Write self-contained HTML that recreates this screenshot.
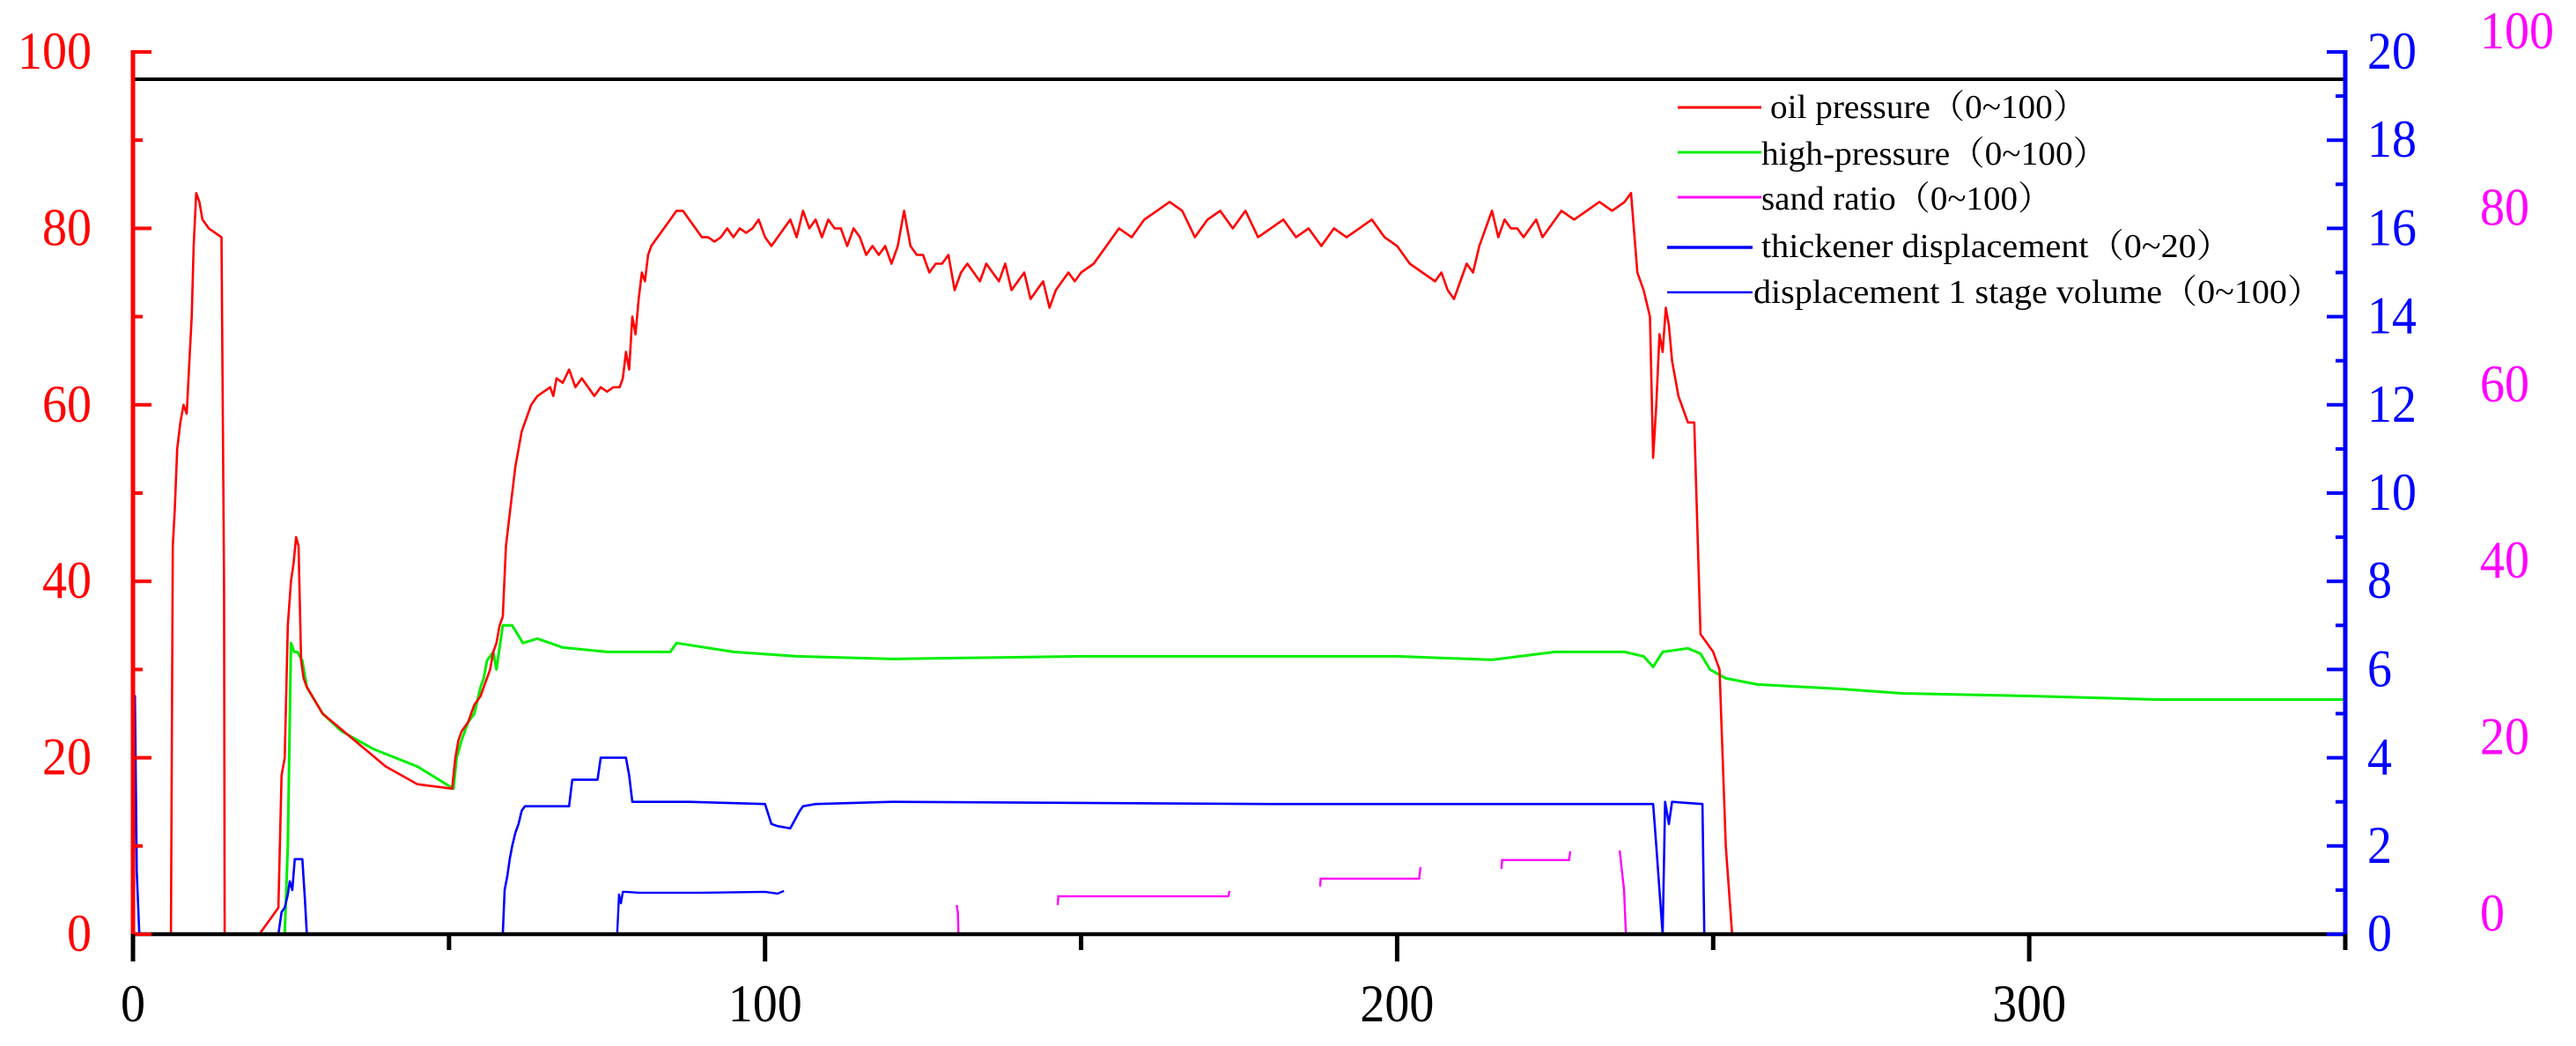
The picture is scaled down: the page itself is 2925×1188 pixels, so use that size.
<!DOCTYPE html>
<html><head><meta charset="utf-8"><style>
html,body{margin:0;padding:0;background:#fff;}
svg{display:block;}
text{font-family:"Liberation Serif","Noto Serif CJK SC",serif;}
</style></head><body>
<svg id="chart" width="2925" height="1188" viewBox="0 0 2925 1188" xmlns="http://www.w3.org/2000/svg">
<g id="plot"></g>
<g id="axes"></g>
<g id="legend">
  <line x1="1905" y1="122" x2="2000" y2="122" stroke="#ff0000" stroke-width="3"/>
  <text x="2010" y="134" font-size="38" textLength="360" lengthAdjust="spacingAndGlyphs">oil pressure（0~100）</text>
  <line x1="1905" y1="173" x2="2000" y2="173" stroke="#00ee00" stroke-width="3"/>
  <text x="2000" y="187" font-size="38" textLength="393" lengthAdjust="spacingAndGlyphs">high-pressure（0~100）</text>
  <line x1="1905" y1="224" x2="2000" y2="224" stroke="#ff00ff" stroke-width="3"/>
  <text x="2000" y="238" font-size="38" textLength="330" lengthAdjust="spacingAndGlyphs">sand ratio（0~100）</text>
  <line x1="1893" y1="281" x2="1990" y2="281" stroke="#0000ff" stroke-width="3.5"/>
  <text x="2000" y="292" font-size="38" textLength="534" lengthAdjust="spacingAndGlyphs">thickener displacement（0~20）</text>
  <line x1="1893" y1="332" x2="1990" y2="332" stroke="#0000ff" stroke-width="2.5"/>
  <text x="1991" y="344" font-size="38" textLength="646" lengthAdjust="spacingAndGlyphs">displacement 1 stage volume（0~100）</text>
</g>
</svg>
<script>
const oilT=[0,6,6.3,6.6,7,7.5,8,8.5,9,9.3,9.6,10,10.5,11,12,14,14.4,14.5,20,21,22,23,23.5,24,24.5,25,25.4,25.8,26.2,26.6,27,27.5,30,35,40,45,50.5,51,51.5,52,53,53.5,54,55,55.5,56,56.5,57,57.5,58,58.5,59,59.5,60,60.5,61,61.5,62,62.5,63,64,65,66,66.5,67,68,69,70,71,72,73,74,75,76,77,77.5,78,78.5,79,79.5,80,80.5,81,81.5,82,83,84,85,86,87,88,89,90,91,92,93,94,95,96,97,98,99,100,101,102,103,104,105,106,107,108,109,110,111,112,113,114,115,116,117,118,119,120,121,122,123,124,125,126,127,128,129,130,131,132,133,134,135,136,137,138,139,140,141,142,143,144,145,146,147,148,149,150,152,154,156,158,160,162,164,166,168,170,172,174,176,178,180,182,184,186,188,190,192,194,196,198,200,202,204,206,207,208,209,210,211,212,213,214,215,216,217,218,219,220,221,222,223,224,226,228,230,232,234,236,237,238,239,240,240.5,241,241.5,242,242.5,243,243.5,244,244.5,245,246,247,248,249,249.5,250,251,252,253,253.7,254.4,260,300,350];
const oilV=[0,0,44,48,55,58,60,59,66,70,78,84,83,81,80,79,40,0,0,1,2,3,18,20,35,40,42,45,44,31,29,28,25,22,19,17,16.5,20,22,23,24,25,26,27,28,29,30,32,33,35,36,44,47,50,53,55,57,58,59,60,61,61.5,62,61,63,62.5,64,62,63,62,61,62,61.5,62,62,63,66,64,70,68,72,75,74,77,78,79,80,81,82,82,81,80,79,79,78.5,79,80,79,80,79.5,80,81,79,78,79,80,81,79,82,80,81,79,81,80,80,78,80,79,77,78,77,78,76,78,82,78,77,77,75,76,76,77,73,75,76,75,74,76,75,74,76,73,74,75,72,73,74,71,73,74,75,74,75,76,78,80,79,81,82,83,82,79,81,82,80,82,79,80,81,79,80,78,80,79,80,81,79,78,76,75,74,75,73,72,74,76,75,78,80,82,79,81,80,80,79,80,81,79,80,82,81,82,83,82,83,84,75,73,70,54,60,68,66,71,69,65,63,61,60,58,58,34,33,32.5,32,30,10,0,0,0,0];
const hpT=[0,24,24.5,25,25.5,26,26.8,27.5,30,33,38,45,50.7,51.2,52,53,54,55,55.5,56,57,57.5,58.5,60,61.7,64,68,75,85,86,95,105,120,130,150,200,215,225,236,239,240.5,242,246,248,249.5,252,257,270,280,300,320,350];
const hpV=[0,0,10,33,32,32,31,28,25,23,21,19,16.5,20,22,24,25,28,29,31,32,30,35,35,33,33.5,32.5,32,32,33,32,31.5,31.2,31.3,31.5,31.5,31.1,32,32,31.5,30.3,32,32.4,31.8,30,29,28.3,27.8,27.3,27,26.6,26.6];
const thkT=[0,0.3,0.6,1,23,23.5,24,24.5,24.8,25.2,25.6,26.8,27.2,27.5,58.5,58.8,59.2,59.6,60,60.5,61,61.5,62,69,69.5,70,73.5,74,78,78.5,79,82,88,100,101,102,104,105.5,106,108,120,180,240.5,241,241.5,242,242.4,243,243.5,248.3,248.6,350];
const thkV=[0,5.4,1.4,0,0,0.5,0.6,0.9,1.2,1.0,1.7,1.7,0.8,0,0,1.0,1.3,1.7,2.0,2.3,2.5,2.8,2.9,2.9,3.5,3.5,3.5,4.0,4.0,3.6,3.0,3.0,3.0,2.95,2.5,2.45,2.4,2.8,2.9,2.95,3.0,2.95,2.95,2.0,1.0,0,3.0,2.5,3.0,2.95,0,0];
const d1T=[76.6,76.9,77.2,77.5,78,80,90,100,102,103];
const d1V=[0,4.5,3.5,4.8,4.8,4.7,4.7,4.8,4.6,4.9];
const sandSegT=[[130.3,130.5,130.6],[146.3,146.4,173.3,173.5],[187.8,187.9,203.5,203.7],[216.5,216.6,227.2,227.4],[235.2,235.9,236.2,350]];
const sandSegV=[[3.3,2.5,0],[3.3,4.3,4.3,4.9],[5.4,6.3,6.3,7.6],[7.4,8.4,8.4,9.4],[9.5,5,0,0]];
const leftTicks=[0,20,40,60,80,100];
const rightTicks=[0,2,4,6,8,10,12,14,16,18,20];
const sandTicks=[0,20,40,60,80,100];
const xTicks=[0,100,200,300];

const X0=151,X1=2663,Y0=1061,Y1=59,XMAX=350;
const sx=t=>X0+(X1-X0)*t/XMAX;
const syL=v=>Y0-(Y0-Y1)*v/100;
const syR=v=>Y0-(Y0-Y1)*v/20;
const sySand=v=>1057-(1057-55)*v/100;
const NS='http://www.w3.org/2000/svg';
const plot=document.getElementById('plot'), axes=document.getElementById('axes');
function mk(tag,attrs,parent){const e=document.createElementNS(NS,tag);for(const k in attrs)e.setAttribute(k,attrs[k]);parent.appendChild(e);return e;}
function pathD(ts,vs,sy){return ts.map((t,i)=>(i?'L':'M')+sx(t).toFixed(1)+','+sy(vs[i]).toFixed(1)).join('');}
const tl=v=>String(v).length*28;

let p;
p=mk('path',{d:pathD(hpT,hpV,syL),fill:'none',stroke:'#00ee00','stroke-width':3,'stroke-linejoin':'round'},plot);


p=mk('path',{d:pathD(oilT,oilV,syL),fill:'none',stroke:'#ff0000','stroke-width':2.6,'stroke-linejoin':'round'},plot);


p=mk('path',{d:pathD(thkT,thkV,syR),fill:'none',stroke:'#0000ff','stroke-width':2.6,'stroke-linejoin':'round'},plot);


p=mk('path',{d:pathD(d1T,d1V,syL),fill:'none',stroke:'#0000ff','stroke-width':2.4,'stroke-linejoin':'round'},plot);


sandSegT.forEach((ts,i)=>{
  const s=mk('path',{d:pathD(ts,sandSegV[i],syL),fill:'none',stroke:'#ff00ff','stroke-width':2.4},plot);
  
  
});

let a;
a=mk('line',{x1:X0,y1:90,x2:X1,y2:90,stroke:'#000','stroke-width':4},axes);


a=mk('line',{x1:X0,y1:Y0,x2:X1,y2:Y0,stroke:'#000','stroke-width':4.5},axes);


a=mk('line',{x1:X0,y1:Y1-2,x2:X0,y2:Y0+2,stroke:'#ff0000','stroke-width':5},axes);


a=mk('line',{x1:X1,y1:Y1-2,x2:X1,y2:Y0+2,stroke:'#0000ff','stroke-width':5},axes);



for(let v=0;v<=100;v+=10){
  const major=v%20===0;
  const t=mk('line',{x1:X0,y1:syL(v),x2:X0+(major?21:11),y2:syL(v),stroke:'#ff0000','stroke-width':4},axes);
  
  
}
leftTicks.forEach(v=>{
  const t=mk('text',{x:104,y:syL(v)+19,'font-size':60,'text-anchor':'end',fill:'#ff0000',textLength:tl(v),lengthAdjust:'spacingAndGlyphs'},axes);
  t.textContent=v;
  
  
});
for(let v=0;v<=20;v+=1){
  const major=v%2===0;
  const t=mk('line',{x1:X1,y1:syR(v),x2:X1-(major?21:11),y2:syR(v),stroke:'#0000ff','stroke-width':4},axes);
  
  
}
rightTicks.forEach(v=>{
  const t=mk('text',{x:2688,y:syR(v)+19,'font-size':60,fill:'#0000ff',textLength:tl(v),lengthAdjust:'spacingAndGlyphs'},axes);
  t.textContent=v;
  
  
});
sandTicks.forEach(v=>{
  const t=mk('text',{x:2816,y:sySand(v),'font-size':60,fill:'#ff00ff',textLength:tl(v),lengthAdjust:'spacingAndGlyphs'},axes);
  t.textContent=v;
  
  
});
for(let v=0;v<=350;v+=50){
  const major=v%100===0;
  const t=mk('line',{x1:sx(v),y1:Y0,x2:sx(v),y2:Y0+(major?31:18),stroke:'#000','stroke-width':5},axes);
  
  
}
xTicks.forEach(v=>{
  const t=mk('text',{x:sx(v),y:1160,'font-size':60,'text-anchor':'middle',fill:'#000',textLength:tl(v),lengthAdjust:'spacingAndGlyphs'},axes);
  t.textContent=v;
  
  
});
</script>
</body></html>
